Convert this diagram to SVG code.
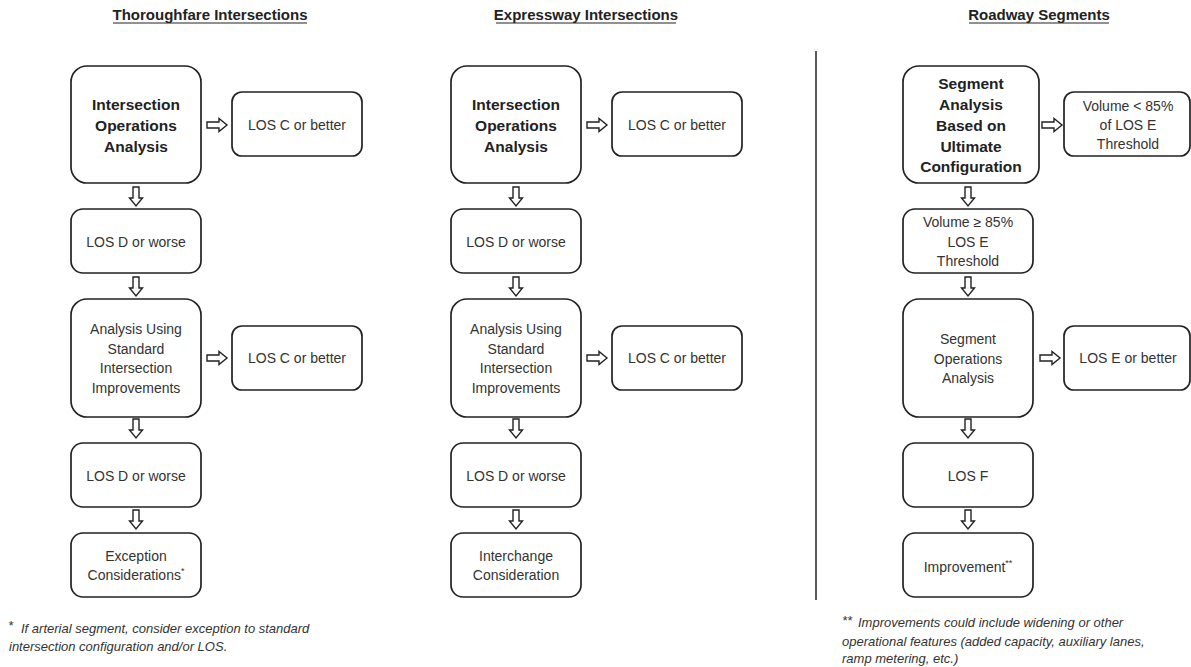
<svg xmlns="http://www.w3.org/2000/svg" width="1191" height="667" viewBox="0 0 1191 667">
<style>
.box{fill:#fff;stroke:#222;stroke-width:1.7}
.t{font-family:"Liberation Sans",Arial,sans-serif;font-size:14px;fill:#333;text-anchor:middle}
.b{font-family:"Liberation Sans",Arial,sans-serif;font-size:15.5px;font-weight:bold;fill:#222;text-anchor:middle}
.h{font-family:"Liberation Sans",Arial,sans-serif;font-size:15px;font-weight:bold;fill:#222;text-anchor:middle}
.fn{font-family:"Liberation Sans",Arial,sans-serif;font-size:13px;font-style:italic;fill:#333}
.ul{stroke:#222;stroke-width:1}
.arr{fill:#fff;stroke:#222;stroke-width:1.4}
.sup{font-size:9px}
</style>
<defs>
<path id="ad" class="arr" d="M-3,0 H3 V11 H6.5 L0,19 L-6.5,11 H-3 Z"/>
<path id="ar" class="arr" d="M0,-3 H12 V-6.5 L20,0 L12,6.5 V3 H0 Z"/>
</defs>
<rect width="1191" height="667" fill="#fff"/>

<g id="titles">
<text class="h" x="210" y="20">Thoroughfare Intersections</text>
<line class="ul" x1="113" y1="23" x2="307" y2="23"/>
<text class="h" x="586" y="20">Expressway Intersections</text>
<line class="ul" x1="496" y1="23" x2="676" y2="23"/>
<text class="h" x="1039" y="20">Roadway Segments</text>
<line class="ul" x1="969" y1="23" x2="1109" y2="23"/>
</g>

<line id="divider" x1="816" y1="51" x2="816" y2="600" stroke="#222" stroke-width="1.5"/>

<!-- Column 1 -->
<g id="t1">
<rect class="box" x="71" y="66" width="130" height="117" rx="16"/>
<text class="b" x="136" y="109.5">Intersection</text>
<text class="b" x="136" y="130.5">Operations</text>
<text class="b" x="136" y="151.5">Analysis</text>
</g>
<g id="t1r">
<rect class="box" x="232" y="92" width="130" height="64" rx="10"/>
<text class="t" x="297" y="130">LOS C or better</text>
</g>
<g id="t2">
<rect class="box" x="71" y="209" width="130" height="64" rx="12"/>
<text class="t" x="136" y="247">LOS D or worse</text>
</g>
<g id="t3">
<rect class="box" x="71" y="299" width="130" height="118" rx="16"/>
<text class="t" x="136" y="334">Analysis Using</text>
<text class="t" x="136" y="353.5">Standard</text>
<text class="t" x="136" y="373">Intersection</text>
<text class="t" x="136" y="392.5">Improvements</text>
</g>
<g id="t3r">
<rect class="box" x="232" y="326" width="130" height="64" rx="10"/>
<text class="t" x="297" y="363">LOS C or better</text>
</g>
<g id="t4">
<rect class="box" x="71" y="443" width="130" height="64" rx="12"/>
<text class="t" x="136" y="481">LOS D or worse</text>
</g>
<g id="t5">
<rect class="box" x="71" y="533" width="130" height="64" rx="12"/>
<text class="t" x="136" y="561">Exception</text>
<text class="t" x="136" y="580">Considerations<tspan class="sup" dy="-6">*</tspan></text>
</g>

<!-- Column 2 -->
<g id="e1">
<rect class="box" x="451" y="66" width="130" height="117" rx="16"/>
<text class="b" x="516" y="109.5">Intersection</text>
<text class="b" x="516" y="130.5">Operations</text>
<text class="b" x="516" y="151.5">Analysis</text>
</g>
<g id="e1r">
<rect class="box" x="612" y="92" width="130" height="64" rx="10"/>
<text class="t" x="677" y="130">LOS C or better</text>
</g>
<g id="e2">
<rect class="box" x="451" y="209" width="130" height="64" rx="12"/>
<text class="t" x="516" y="247">LOS D or worse</text>
</g>
<g id="e3">
<rect class="box" x="451" y="299" width="130" height="118" rx="16"/>
<text class="t" x="516" y="334">Analysis Using</text>
<text class="t" x="516" y="353.5">Standard</text>
<text class="t" x="516" y="373">Intersection</text>
<text class="t" x="516" y="392.5">Improvements</text>
</g>
<g id="e3r">
<rect class="box" x="612" y="326" width="130" height="64" rx="10"/>
<text class="t" x="677" y="363">LOS C or better</text>
</g>
<g id="e4">
<rect class="box" x="451" y="443" width="130" height="64" rx="12"/>
<text class="t" x="516" y="481">LOS D or worse</text>
</g>
<g id="e5">
<rect class="box" x="451" y="533" width="130" height="64" rx="12"/>
<text class="t" x="516" y="561">Interchange</text>
<text class="t" x="516" y="580">Consideration</text>
</g>

<!-- Column 3 -->
<g id="r1">
<rect class="box" x="903" y="66" width="136" height="117" rx="16"/>
<text class="b" x="971" y="88.5">Segment</text>
<text class="b" x="971" y="109.5">Analysis</text>
<text class="b" x="971" y="130.5">Based on</text>
<text class="b" x="971" y="151.5">Ultimate</text>
<text class="b" x="971" y="171.5">Configuration</text>
</g>
<g id="r1r">
<rect class="box" x="1064" y="92" width="126" height="64" rx="10"/>
<text class="t" x="1128" y="111">Volume &lt; 85%</text>
<text class="t" x="1128" y="130">of LOS E</text>
<text class="t" x="1128" y="149">Threshold</text>
</g>
<g id="r2">
<rect class="box" x="903" y="209" width="130" height="64" rx="12"/>
<text class="t" x="968" y="227">Volume ≥ 85%</text>
<text class="t" x="968" y="247">LOS E</text>
<text class="t" x="968" y="266">Threshold</text>
</g>
<g id="r3">
<rect class="box" x="903" y="299" width="130" height="118" rx="16"/>
<text class="t" x="968" y="344">Segment</text>
<text class="t" x="968" y="364">Operations</text>
<text class="t" x="968" y="383">Analysis</text>
</g>
<g id="r3r">
<rect class="box" x="1064" y="326" width="126" height="64" rx="10"/>
<text class="t" x="1128" y="363">LOS E or better</text>
</g>
<g id="r4">
<rect class="box" x="903" y="443" width="130" height="64" rx="12"/>
<text class="t" x="968" y="481">LOS F</text>
</g>
<g id="r5">
<rect class="box" x="903" y="533" width="130" height="64" rx="12"/>
<text class="t" x="968" y="572">Improvement<tspan class="sup" dy="-6">**</tspan></text>
</g>

<g id="connectors">
<use href="#ar" x="207" y="125"/>
<use href="#ar" x="207" y="358"/>
<use href="#ad" x="136" y="187"/>
<use href="#ad" x="136" y="277"/>
<use href="#ad" x="136" y="419"/>
<use href="#ad" x="136" y="510"/>
<use href="#ar" x="587" y="125"/>
<use href="#ar" x="587" y="358"/>
<use href="#ad" x="516" y="187"/>
<use href="#ad" x="516" y="277"/>
<use href="#ad" x="516" y="419"/>
<use href="#ad" x="516" y="510"/>
<use href="#ar" x="1042" y="125"/>
<use href="#ar" x="1040" y="358"/>
<use href="#ad" x="968" y="187"/>
<use href="#ad" x="968" y="277"/>
<use href="#ad" x="968" y="419"/>
<use href="#ad" x="968" y="510"/>
</g>

<g id="footnotes">
<text class="fn" x="8" y="630" font-size="9">*</text>
<text class="fn" x="21" y="633">If arterial segment, consider exception to standard</text>
<text class="fn" x="9" y="651">intersection configuration and/or LOS.</text>
<text class="fn" x="842" y="625" font-size="9">**</text>
<text class="fn" x="858" y="627">Improvements could include widening or other</text>
<text class="fn" x="842" y="646">operational features (added capacity, auxiliary lanes,</text>
<text class="fn" x="842" y="663">ramp metering, etc.)</text>
</g>
</svg>
